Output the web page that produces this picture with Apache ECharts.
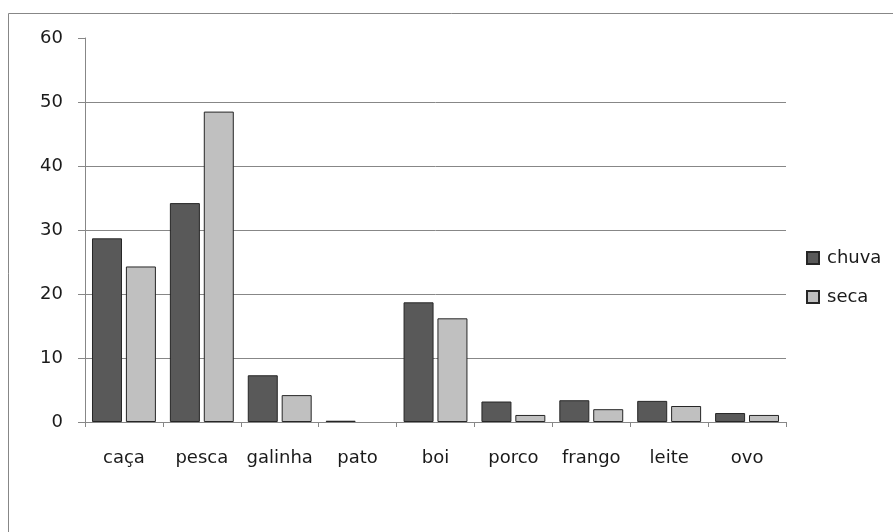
<!DOCTYPE html>
<html>
<head>
<meta charset="utf-8">
<script src="https://cdn.jsdelivr.net/npm/echarts@6/dist/echarts.min.js"></script>
<style>
  html, body { margin: 0; padding: 0; background: #fff; }
  #chart { width: 893px; height: 532px; }
</style>
</head>
<body>
<div id="chart"></div>
<script>
// Categories of food sources
const categories = ['caça', 'pesca', 'galinha', 'pato', 'boi', 'porco', 'frango', 'leite', 'ovo'];
// Values per season
const chuva = [28.7, 34.2, 7.3, 0.2, 18.7, 3.2, 3.4, 3.3, 1.4];
const seca = [24.3, 48.5, 4.2, 0, 16.2, 1.1, 2.0, 2.5, 1.1];
// Value axis range
const yMin = 0;
const yMax = 60;
const yStep = 10;

const FONT = 'DejaVu Sans';
const TEXT = '#1a1a1a';
const LINE = '#878787';

// zero-valued bars are left without an outline
const toBarData = arr => arr.map(v => v === 0 ? { value: v, itemStyle: { borderWidth: 0 } } : v);

const chart = echarts.init(document.getElementById('chart'), null, { renderer: 'canvas' });

chart.setOption({
  backgroundColor: '#ffffff',
  animation: false,
  graphic: [{
    type: 'rect',
    shape: { x: 8.5, y: 13.5, width: 1000, height: 1000 },
    style: { fill: 'none', stroke: LINE, lineWidth: 1 },
    silent: true
  }],
  grid: { left: 85, right: 107, top: 38, bottom: 110, containLabel: false },
  legend: {
    orient: 'vertical',
    left: 801,
    top: 244,
    itemWidth: 12,
    itemHeight: 12,
    itemGap: 21,
    icon: 'rect',
    textStyle: { fontFamily: FONT, fontSize: 18, color: TEXT, padding: [0, 0, 0, 3] },
    data: ['chuva', 'seca']
  },
  xAxis: {
    type: 'category',
    data: categories,
    axisLine: { lineStyle: { color: LINE, width: 1 } },
    axisTick: { show: true, interval: 0, length: 5, lineStyle: { color: LINE } },
    axisLabel: { interval: 0, fontFamily: FONT, fontSize: 18, color: TEXT, margin: 27 },
    splitLine: { show: false }
  },
  yAxis: {
    type: 'value',
    min: yMin,
    max: yMax,
    interval: yStep,
    axisLine: { show: true, lineStyle: { color: LINE, width: 1 } },
    axisTick: { show: true, inside: false, length: 7, lineStyle: { color: LINE, width: 1 } },
    axisLabel: { fontFamily: FONT, fontSize: 18, color: TEXT, margin: 22 },
    splitLine: { show: true, showMaxLine: false, lineStyle: { color: LINE, width: 1 } }
  },
  series: [
    {
      name: 'chuva',
      type: 'bar',
      data: toBarData(chuva),
      barWidth: 30,
      barGap: '13%',
      itemStyle: { color: '#595959', borderColor: '#262626', borderWidth: 1 }
    },
    {
      name: 'seca',
      type: 'bar',
      data: toBarData(seca),
      barWidth: 30,
      itemStyle: { color: '#c0c0c0', borderColor: '#262626', borderWidth: 1 }
    }
  ]
});
</script>
</body>
</html>
